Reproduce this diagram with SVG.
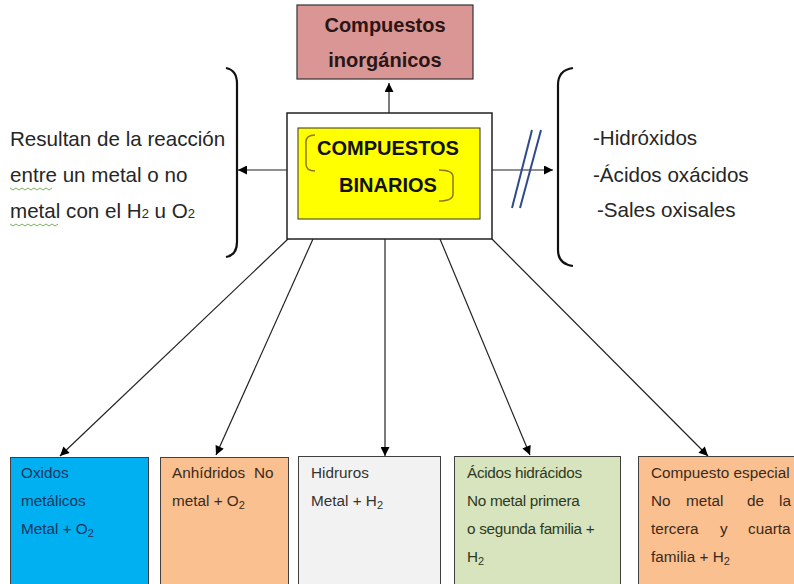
<svg xmlns="http://www.w3.org/2000/svg" width="794" height="584" viewBox="0 0 794 584">
<defs>
<marker id="ah" viewBox="0 0 10 10" refX="10" refY="5" markerWidth="10" markerHeight="9" markerUnits="userSpaceOnUse" orient="auto">
<path d="M0,0 L10,5 L0,10 z" fill="#000"/>
</marker>
</defs>
<style>
.side{font-family:"Liberation Sans",Arial,sans-serif;font-size:20.6px;fill:#262626}
.bx{font-family:"Liberation Sans",Arial,sans-serif;font-size:15.3px}
.hd{font-family:"Liberation Sans",Arial,sans-serif;font-weight:bold;font-size:20px}
.conn{stroke:#222;stroke-width:1.2;fill:none;marker-end:url(#ah)}
.brace{stroke:#111;stroke-width:2.2;fill:none}
.leaf{stroke:#404040;stroke-width:1}
.sub{font-size:11px}
</style>
<rect width="794" height="584" fill="#fff"/>

<g id="connectors">
<line class="conn" x1="389" y1="113" x2="389" y2="83"/>
<line class="conn" x1="287" y1="170" x2="238" y2="170"/>
<line class="conn" x1="492" y1="170" x2="553" y2="170"/>
<line class="conn" x1="288" y1="239" x2="60" y2="456"/>
<line class="conn" x1="313" y1="239" x2="216" y2="455"/>
<line class="conn" x1="385" y1="239" x2="385" y2="456"/>
<line class="conn" x1="440" y1="239" x2="530" y2="455"/>
<line class="conn" x1="492" y1="239" x2="708" y2="456"/>
<line x1="512" y1="208" x2="532" y2="130" stroke="#2f4a8a" stroke-width="2"/>
<line x1="520" y1="208" x2="541" y2="130" stroke="#2f4a8a" stroke-width="2"/>
</g>

<g id="top">
<rect x="297" y="5" width="176" height="74" fill="#d99694" stroke="#333" stroke-width="1.2"/>
<text class="hd" x="385" y="32" text-anchor="middle" fill="#2b1515">Compuestos</text>
<text class="hd" x="385" y="67" text-anchor="middle" fill="#2b1515">inorgánicos</text>
</g>

<g id="main">
<rect x="287" y="113" width="205" height="126" fill="#fff" stroke="#222" stroke-width="1.5"/>
<rect x="298" y="128" width="182" height="91" fill="#ffff00" stroke="#333" stroke-width="1"/>
<path d="M315,135 Q306,135 306,142 L306,164 Q306,171 315,171" stroke="#8c7a1e" stroke-width="1.5" fill="none"/>
<path d="M439,170 Q453,170 453,177 L453,194 Q453,201 439,201" stroke="#8c7a1e" stroke-width="1.5" fill="none"/>
<text class="hd" x="388" y="155" text-anchor="middle" fill="#111" font-size="20.5px">COMPUESTOS</text>
<text class="hd" x="388" y="192" text-anchor="middle" fill="#111">BINARIOS</text>
</g>

<g id="left-note">
<path class="brace" d="M226,68 Q237,70 237,84 L237,242 Q237,255 226,257"/>
<text class="side" x="10" y="146">Resultan de la reacción</text>
<text class="side" x="10" y="182">entre un metal o no</text>
<text class="side" x="10" y="218">metal con el H<tspan font-size="13px">2</tspan> u O<tspan font-size="13px">2</tspan></text>
<path d="M10,188 l3,2 l3,-2 l3,2 l3,-2 l3,2 l3,-2 l3,2 l3,-2 l3,2 l3,-2 l3,2 l3,-2 l3,2 l3,-2" stroke="#5a9a3a" stroke-width="0.8" fill="none"/>
<path d="M10,224 l3,2 l3,-2 l3,2 l3,-2 l3,2 l3,-2 l3,2 l3,-2 l3,2 l3,-2 l3,2 l3,-2 l3,2 l3,-2 l3,2 l3,-2" stroke="#5a9a3a" stroke-width="0.8" fill="none"/>
</g>

<g id="right-note">
<path class="brace" d="M573,68 Q558,70 558,85 L558,250 Q558,264 573,266"/>
<text class="side" x="593" y="145">-Hidróxidos</text>
<text class="side" x="593" y="182">-Ácidos oxácidos</text>
<text class="side" x="597" y="217">-Sales oxisales</text>
</g>

<g id="oxidos">
<rect class="leaf" x="10.5" y="457.5" width="138" height="130" fill="#00b0f0"/>
<text class="bx" fill="#1a3560" x="21" y="478">Oxidos</text>
<text class="bx" fill="#1a3560" x="21" y="506">metálicos</text>
<text class="bx" fill="#1a3560" x="21" y="534">Metal + O<tspan class="sub" dy="3">2</tspan></text>
</g>

<g id="anhidridos">
<rect class="leaf" x="160.5" y="457.5" width="128" height="130" fill="#fac090"/>
<text class="bx" fill="#3b2a1a" y="478"><tspan x="172">Anhídridos</tspan><tspan x="254">No</tspan></text>
<text class="bx" fill="#3b2a1a" x="172" y="506">metal + O<tspan class="sub" dy="3">2</tspan></text>
</g>

<g id="hidruros">
<rect class="leaf" x="298.5" y="456.5" width="142" height="131" fill="#f2f2f2"/>
<text class="bx" fill="#333" x="311" y="478">Hidruros</text>
<text class="bx" fill="#333" x="311" y="506">Metal + H<tspan class="sub" dy="3">2</tspan></text>
</g>

<g id="acidos">
<rect class="leaf" x="454.5" y="456.5" width="166" height="131" fill="#d7e4bd"/>
<text class="bx" fill="#2e3a1e" x="467" y="478" letter-spacing="-0.3">Ácidos hidrácidos</text>
<text class="bx" fill="#2e3a1e" x="467" y="506" letter-spacing="-0.3">No metal primera</text>
<text class="bx" fill="#2e3a1e" x="467" y="534" letter-spacing="-0.3">o segunda familia +</text>
<text class="bx" fill="#2e3a1e" x="467" y="562">H<tspan class="sub" dy="3">2</tspan></text>
</g>

<g id="especial">
<rect class="leaf" x="638.5" y="456.5" width="170" height="131" fill="#fac090"/>
<text class="bx" fill="#3b2a1a" x="651" y="478">Compuesto especial</text>
<text class="bx" fill="#3b2a1a" y="506"><tspan x="651">No</tspan><tspan x="686">metal</tspan><tspan x="747">de</tspan><tspan x="779">la</tspan></text>
<text class="bx" fill="#3b2a1a" y="534"><tspan x="651">tercera</tspan><tspan x="720">y</tspan><tspan x="748">cuarta</tspan></text>
<text class="bx" fill="#3b2a1a" x="651" y="562">familia + H<tspan class="sub" dy="3">2</tspan></text>
</g>
</svg>
